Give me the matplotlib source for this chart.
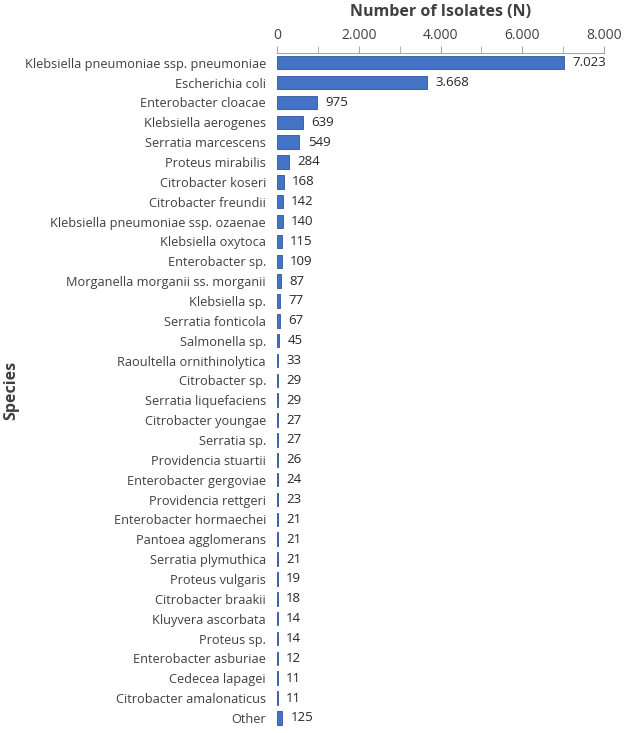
import matplotlib
matplotlib.use("Agg")
import matplotlib.pyplot as plt
import matplotlib.ticker as mtick

species = [
    "Klebsiella pneumoniae ssp. pneumoniae",
    "Escherichia coli",
    "Enterobacter cloacae",
    "Klebsiella aerogenes",
    "Serratia marcescens",
    "Proteus mirabilis",
    "Citrobacter koseri",
    "Citrobacter freundii",
    "Klebsiella pneumoniae ssp. ozaenae",
    "Klebsiella oxytoca",
    "Enterobacter sp.",
    "Morganella morganii ss. morganii",
    "Klebsiella sp.",
    "Serratia fonticola",
    "Salmonella sp.",
    "Raoultella ornithinolytica",
    "Citrobacter sp.",
    "Serratia liquefaciens",
    "Citrobacter youngae",
    "Serratia sp.",
    "Providencia stuartii",
    "Enterobacter gergoviae",
    "Providencia rettgeri",
    "Enterobacter hormaechei",
    "Pantoea agglomerans",
    "Serratia plymuthica",
    "Proteus vulgaris",
    "Citrobacter braakii",
    "Kluyvera ascorbata",
    "Proteus sp.",
    "Enterobacter asburiae",
    "Cedecea lapagei",
    "Citrobacter amalonaticus",
    "Other",
]
isolates = [7023, 3668, 975, 639, 549, 284, 168, 142, 140, 115, 109, 87, 77, 67,
            45, 33, 29, 29, 27, 27, 26, 24, 23, 21, 21, 21, 19, 18, 14, 14, 12,
            11, 11, 125]
x_ticks = [0, 2000, 4000, 6000, 8000]


def dot_thousands(v, pos=None):
    return f"{int(v):,}".replace(",", ".")


plt.rcParams["font.family"] = ["Open Sans", "DejaVu Sans"]

fig = plt.figure(figsize=(6.24, 7.33), dpi=100)
ax = fig.add_axes([0.444, 0.007, 0.524, 0.921])

y = list(range(len(species)))
ax.barh(y, isolates, height=0.68, color="#4472C4", edgecolor="#2F5597", linewidth=0.6)

for yi, v in zip(y, isolates):
    ax.annotate(dot_thousands(v), xy=(v, yi), xytext=(6, 0), textcoords="offset points",
                va="center", ha="left", fontsize=9.5, color="#262626")

ax.set_ylim(len(species) - 0.5, -0.5)
ax.set_xlim(0, 8000)
ax.set_yticks(y)
ax.set_yticklabels(species, fontsize=9.2, color="#404040")
ax.tick_params(axis="y", length=0, pad=8)

ax.xaxis.tick_top()
ax.xaxis.set_label_position("top")
ax.set_xticks(x_ticks)
ax.xaxis.set_major_formatter(mtick.FuncFormatter(dot_thousands))
ax.xaxis.set_minor_locator(mtick.MultipleLocator(1000))
ax.tick_params(axis="x", which="both", length=5, color="#A6A6A6", labelsize=10,
               labelcolor="#404040", pad=2)
ax.set_xlabel("Number of Isolates (N)", fontsize=11.5, fontweight="bold", color="#404040",
              labelpad=9)

for side in ["left", "right", "bottom"]:
    ax.spines[side].set_visible(False)
ax.spines["top"].set_color("#A6A6A6")
ax.spines["top"].set_linewidth(0.8)

fig.text(0.018, 0.468, "Species", rotation=90, fontsize=11.5, fontweight="bold",
         color="#404040", ha="center", va="center")

fig.savefig("out.png", dpi=100)
